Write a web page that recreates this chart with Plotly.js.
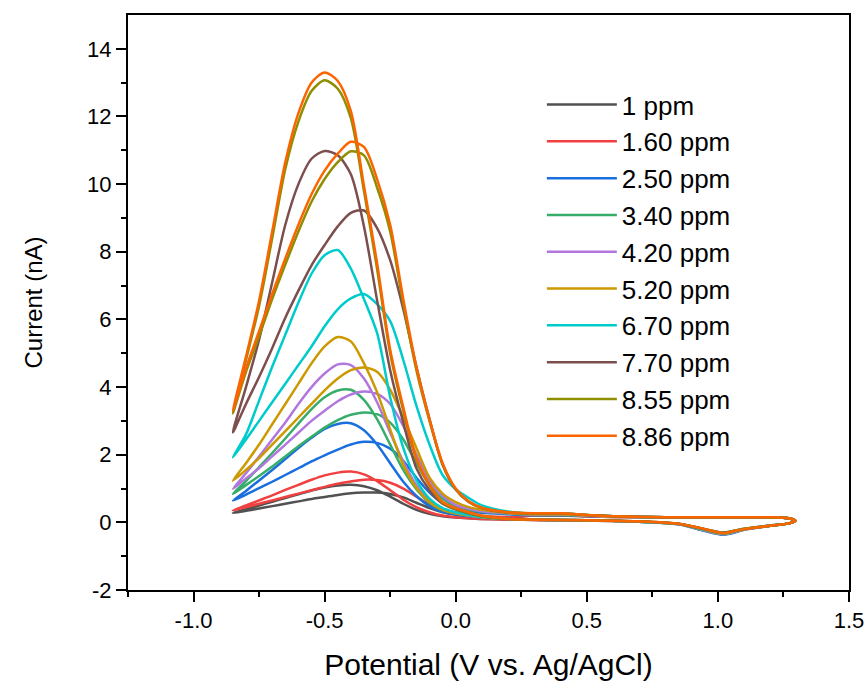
<!DOCTYPE html>
<html>
<head>
<meta charset="utf-8">
<script src="https://cdn.plot.ly/plotly-3.0.1.min.js"></script>
<style>html,body{margin:0;padding:0;background:#fff;}#chart{width:868px;height:681px;}</style>
</head>
<body>
<div id="chart"></div>
<script>
// Potential sweep (V vs. Ag/AgCl), one closed loop shared by all scans
const potential = [-0.85,-0.80,-0.75,-0.70,-0.65,-0.60,-0.55,-0.50,-0.45,-0.40,-0.35,-0.30,-0.25,-0.20,-0.15,-0.10,-0.05,0.00,0.05,0.10,0.20,
  0.30,0.50,0.70,0.85,0.95,1.02,1.05,1.10,1.20,1.27,
  1.295,
  1.27,1.20,1.00,0.80,0.60,0.50,0.40,0.30,
  0.20,0.10,0.05,0.00,-0.05,-0.10,-0.15,-0.20,-0.25,-0.30,-0.35,-0.40,-0.45,-0.50,-0.55,-0.60,-0.65,-0.70,-0.75,-0.80,-0.85];

// Current (nA) for each concentration
const i_100 = [0.28,0.39,0.5,0.61,0.72,0.83,0.94,1.03,1.09,1.11,1.07,0.95,0.76,0.55,0.37,0.25,0.18,0.14,0.12,0.1,0.08,
  0.07,0.05,0.02,-0.04,-0.2,-0.3,-0.27,-0.19,-0.09,-0.03,
  0.05,
  0.12,0.15,0.15,0.15,0.16,0.18,0.2,0.2,
  0.15,0.17,0.19,0.23,0.3,0.42,0.58,0.74,0.84,0.88,0.88,0.86,0.81,0.75,0.69,0.62,0.55,0.48,0.41,0.34,0.28];
const i_160 = [0.35,0.5,0.65,0.8,0.96,1.11,1.26,1.39,1.47,1.5,1.42,1.22,0.95,0.67,0.45,0.3,0.2,0.15,0.12,0.1,0.08,
  0.07,0.05,0.02,-0.05,-0.24,-0.34,-0.3,-0.21,-0.1,-0.03,
  0.05,
  0.12,0.15,0.15,0.15,0.16,0.18,0.2,0.2,
  0.16,0.19,0.22,0.27,0.36,0.52,0.76,1.0,1.17,1.25,1.26,1.21,1.14,1.05,0.95,0.85,0.75,0.65,0.55,0.45,0.35];
const i_250 = [0.64,0.93,1.24,1.55,1.87,2.2,2.5,2.76,2.91,2.93,2.72,2.3,1.75,1.2,0.78,0.48,0.31,0.23,0.18,0.14,0.1,
  0.08,0.06,0.02,-0.06,-0.26,-0.37,-0.33,-0.22,-0.1,-0.03,
  0.05,
  0.12,0.15,0.15,0.15,0.17,0.19,0.21,0.21,
  0.24,0.28,0.33,0.42,0.57,0.88,1.32,1.82,2.18,2.35,2.38,2.3,2.15,1.98,1.8,1.6,1.4,1.2,1.01,0.82,0.64];
const i_340 = [0.84,1.22,1.63,2.05,2.48,2.92,3.35,3.7,3.9,3.92,3.62,3.05,2.3,1.55,0.98,0.58,0.36,0.26,0.2,0.15,0.1,
  0.08,0.06,0.02,-0.05,-0.24,-0.35,-0.31,-0.21,-0.1,-0.03,
  0.05,
  0.12,0.15,0.15,0.15,0.17,0.2,0.22,0.22,
  0.26,0.31,0.37,0.48,0.7,1.12,1.75,2.45,2.95,3.2,3.25,3.18,3.02,2.8,2.53,2.25,1.95,1.65,1.37,1.1,0.84];
const i_420 = [0.99,1.45,1.95,2.45,2.95,3.5,4.0,4.4,4.67,4.65,4.25,3.55,2.65,1.8,1.1,0.65,0.4,0.28,0.2,0.15,0.1,
  0.08,0.06,0.02,-0.05,-0.24,-0.35,-0.31,-0.21,-0.1,-0.03,
  0.05,
  0.12,0.15,0.15,0.15,0.17,0.2,0.23,0.23,
  0.27,0.33,0.4,0.52,0.78,1.25,2.0,2.85,3.5,3.8,3.87,3.78,3.58,3.3,3.0,2.65,2.3,1.95,1.6,1.3,0.99];
const i_520 = [1.23,1.75,2.3,2.9,3.5,4.1,4.7,5.2,5.48,5.35,4.7,3.85,2.75,1.7,1.02,0.6,0.37,0.27,0.2,0.15,0.1,
  0.08,0.06,0.02,-0.05,-0.23,-0.34,-0.3,-0.21,-0.1,-0.03,
  0.05,
  0.12,0.15,0.15,0.15,0.17,0.2,0.24,0.24,
  0.28,0.37,0.45,0.6,0.85,1.32,2.2,3.1,3.92,4.45,4.58,4.5,4.25,3.9,3.5,3.1,2.7,2.3,1.9,1.55,1.23];
const i_670 = [1.92,2.6,3.6,4.6,5.55,6.5,7.35,7.9,8.05,7.5,6.6,5.6,3.7,2.2,1.25,0.7,0.42,0.3,0.22,0.16,0.1,
  0.08,0.06,0.02,-0.05,-0.22,-0.33,-0.29,-0.2,-0.1,-0.03,
  0.05,
  0.12,0.15,0.15,0.15,0.18,0.22,0.26,0.26,
  0.32,0.5,0.72,0.98,1.4,2.3,3.45,4.8,5.95,6.45,6.75,6.62,6.3,5.8,5.2,4.65,4.1,3.55,3.0,2.45,1.92];
const i_770 = [2.66,4.0,5.4,7.1,8.8,10.0,10.75,10.98,10.85,10.29,8.75,6.57,4.5,2.95,1.6,0.95,0.55,0.38,0.27,0.18,0.1,
  0.08,0.06,0.03,-0.05,-0.21,-0.32,-0.28,-0.2,-0.1,-0.03,
  0.05,
  0.12,0.15,0.15,0.15,0.18,0.22,0.26,0.26,
  0.29,0.42,0.6,0.97,1.7,3.05,4.6,6.3,7.75,8.7,9.22,9.15,8.75,8.2,7.6,6.85,6.05,5.15,4.3,3.5,2.66];
const i_855 = [3.22,4.8,6.4,8.4,10.45,11.85,12.75,13.07,12.82,11.95,9.8,7.5,5.0,3.3,1.85,1.08,0.58,0.4,0.28,0.18,0.1,
  0.08,0.06,0.03,-0.04,-0.2,-0.31,-0.27,-0.19,-0.1,-0.03,
  0.05,
  0.12,0.15,0.15,0.15,0.18,0.22,0.26,0.26,
  0.29,0.42,0.6,0.98,1.72,3.0,4.5,6.45,8.6,9.9,10.85,10.97,10.65,10.15,9.48,8.6,7.62,6.6,5.5,4.45,3.22];
const i_886 = [3.30,4.9,6.55,8.6,10.65,12.1,13.0,13.3,13.05,12.16,9.95,7.67,5.1,3.4,1.9,1.12,0.6,0.42,0.3,0.2,0.1,
  0.08,0.06,0.03,-0.04,-0.2,-0.32,-0.28,-0.2,-0.1,-0.03,
  0.05,
  0.12,0.15,0.15,0.15,0.18,0.22,0.27,0.27,
  0.30,0.43,0.62,1.0,1.75,3.05,4.6,6.6,8.8,10.15,11.1,11.25,10.9,10.4,9.7,8.8,7.8,6.75,5.65,4.55,3.30];

const seriesNames = ['1 ppm','1.60 ppm','2.50 ppm','3.40 ppm','4.20 ppm','5.20 ppm','6.70 ppm','7.70 ppm','8.55 ppm','8.86 ppm'];
const seriesCurrents = [i_100,i_160,i_250,i_340,i_420,i_520,i_670,i_770,i_855,i_886];
const seriesColors = ['#515151','#F14040','#1A6FDF','#37AD6B','#B177DE','#CC9900','#00CBCC','#7D4E4E','#8E8E00','#FB6501'];

const xTickVals = [-1.0,-0.5,0.0,0.5,1.0,1.5];
const xTickText = ['-1.0','-0.5','0.0','0.5','1.0','1.5'];
const xMinorVals = [-1.25,-0.75,-0.25,0.25,0.75,1.25];
const yTickVals = [-2,0,2,4,6,8,10,12,14];
const yTickText = ['-2','0','2','4','6','8','10','12','14'];
const yMinorVals = [-1,1,3,5,7,9,11,13];

const FONT = 'Liberation Sans, Arial, sans-serif';

const traces = seriesNames.map((name, k) => ({
  x: potential,
  y: seriesCurrents[k],
  type: 'scatter',
  mode: 'lines',
  name: name,
  line: {color: seriesColors[k], width: 2.5, shape: 'spline', smoothing: 0.8}
}));

const axisCommon = {
  showline: true, linecolor: '#000', linewidth: 2, mirror: true,
  ticks: 'outside', ticklen: 10, tickwidth: 2, tickcolor: '#000',
  showgrid: false, zeroline: false,
  tickfont: {family: FONT, size: 22, color: '#000'}
};

const layout = {
  width: 868, height: 681,
  margin: {l: 128, r: 19, t: 15, b: 91},
  paper_bgcolor: '#fff', plot_bgcolor: '#fff',
  font: {family: FONT, color: '#000'},
  showlegend: true,
  legend: {
    x: 0.574, y: 0.885, xanchor: 'left', yanchor: 'top',
    bgcolor: 'rgba(0,0,0,0)', borderwidth: 0,
    font: {family: FONT, size: 26, color: '#000'},
    itemwidth: 70
  },
  xaxis: Object.assign({}, axisCommon, {
    range: [-1.25, 1.5],
    tickmode: 'array', tickvals: xTickVals, ticktext: xTickText,
    minor: {tickmode: 'array', tickvals: xMinorVals, ticks: 'outside', ticklen: 5, tickwidth: 2, tickcolor: '#000', showgrid: false},
    title: {text: 'Potential (V vs. Ag/AgCl)', font: {family: FONT, size: 30, color: '#000'}}
  }),
  yaxis: Object.assign({}, axisCommon, {
    range: [-2, 15],
    tickmode: 'array', tickvals: yTickVals, ticktext: yTickText,
    minor: {tickmode: 'array', tickvals: yMinorVals, ticks: 'outside', ticklen: 5, tickwidth: 2, tickcolor: '#000', showgrid: false},
    title: {text: 'Current (nA)', standoff: 38, font: {family: FONT, size: 24, color: '#000'}}
  })
};

Plotly.newPlot('chart', traces, layout, {displayModeBar: false, staticPlot: true});
</script>
</body>
</html>
